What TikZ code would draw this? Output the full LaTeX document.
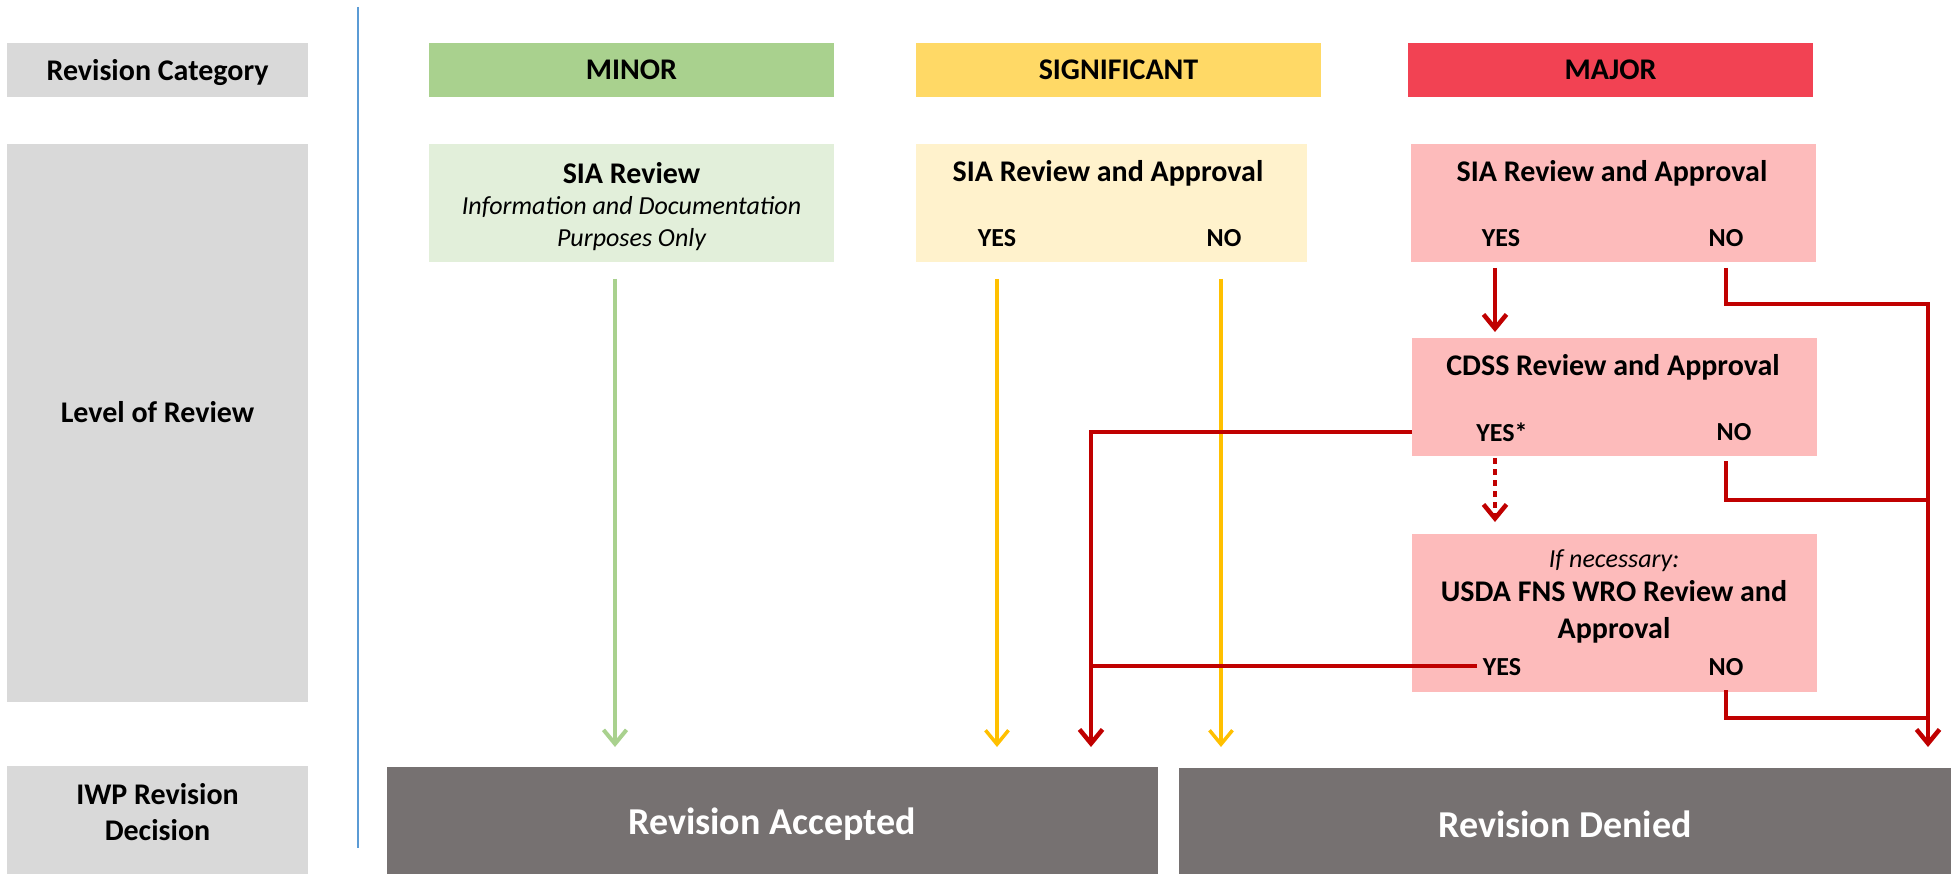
\documentclass[tikz,border=0pt]{standalone}
\usepackage{fontspec}
\setmainfont{Carlito}
\usetikzlibrary{arrows.meta}
\definecolor{lblgray}{HTML}{D9D9D9}
\definecolor{mgreen}{HTML}{A9D18E}
\definecolor{mgreenl}{HTML}{E2EFDA}
\definecolor{sgold}{HTML}{FFD966}
\definecolor{sgoldl}{HTML}{FFF2CC}
\definecolor{jred}{HTML}{F24253}
\definecolor{jredl}{HTML}{FDBBBB}
\definecolor{dred}{HTML}{C00000}
\definecolor{ygold}{HTML}{FFC000}
\definecolor{decgray}{HTML}{767171}
\definecolor{sepblue}{HTML}{5B9BD5}
\begin{document}
\begin{tikzpicture}[x=1pt,y=-1pt,
  boxs/.style={rectangle, inner sep=0pt, outer sep=0pt, draw=none},
  lbl/.style={font=\bfseries\fontsize{30}{36}\selectfont, align=center, inner sep=0pt},
  ttl/.style={font=\bfseries\fontsize{30}{36}\selectfont, align=center, inner sep=0pt},
  itl/.style={font=\itshape\fontsize{26}{32}\selectfont, align=center, inner sep=0pt},
  yn/.style={font=\bfseries\fontsize{26}{30}\selectfont, inner sep=0pt},
  dec/.style={font=\bfseries\fontsize{38}{44}\selectfont, text=white, inner sep=0pt},
  tip/.style={-{Straight Barb[length=14pt,width=23pt]}},
  redln/.style={draw=dred, line width=4.5pt},
  yelln/.style={draw=ygold, line width=3.5pt},
  grnln/.style={draw=mgreen, line width=4pt}]
\useasboundingbox (0,0) rectangle (1955,874);
\fill[white] (0,0) rectangle (1955,874);

% separator
\coordinate (sepA) at (358,7);
\coordinate (sepB) at (358,848);
\draw[sepblue, line width=1.4pt] (sepA) -- (sepB);

% left labels
\node[boxs, fill=lblgray, minimum width=301pt, minimum height=54pt] (catL) at (157.5,70) {};
\node[boxs, fill=lblgray, minimum width=301pt, minimum height=558pt] (levL) at (157.5,423) {};
\node[boxs, fill=lblgray, minimum width=301pt, minimum height=108pt] (decL) at (157.5,820) {};
\node[lbl] (catT) at (157.5,73) {Revision Category};
\node[lbl] (levT) at (157.5,412) {Level of Review};
\node[lbl] (decT) at (157.5,812) {IWP Revision\\Decision};

% headers
\node[boxs, fill=mgreen, minimum width=405pt, minimum height=54pt] (minorH) at (631.5,70) {};
\node[boxs, fill=sgold, minimum width=405pt, minimum height=54pt] (sigH) at (1118.5,70) {};
\node[boxs, fill=jred, minimum width=405pt, minimum height=54pt] (majH) at (1610.5,70) {};
\node[ttl] (minorT) at (631.5,70) {MINOR};
\node[ttl] (sigT) at (1118.5,70) {SIGNIFICANT};
\node[ttl] (majT) at (1610.5,70) {MAJOR};

% review boxes
\node[boxs, fill=mgreenl, minimum width=405pt, minimum height=118pt] (minorS) at (631.5,203) {};
\node[boxs, fill=sgoldl, minimum width=391pt, minimum height=118pt] (sigS) at (1111.5,203) {};
\node[boxs, fill=jredl, minimum width=405pt, minimum height=118pt] (majS) at (1613.5,203) {};
\node[boxs, fill=jredl, minimum width=405pt, minimum height=118pt] (cdss) at (1614.5,397) {};
\node[boxs, fill=jredl, minimum width=405pt, minimum height=158pt] (usda) at (1614.5,613) {};

\node[ttl] (minorST) at (631.5,173) {SIA Review};
\node[itl] (minorSI) at (631.5,224) {Information and Documentation\\Purposes Only};

\node[ttl] (sigST) at (1108,173) {SIA Review and Approval};
\node[yn] (sigY) at (997,238) {YES};
\node[yn] (sigN) at (1224,238) {NO};

\node[ttl] (majST) at (1612,173) {SIA Review and Approval};
\node[yn] (majY) at (1501,238) {YES};
\node[yn] (majN) at (1726,238) {NO};

\node[ttl] (cdssT) at (1613,367) {CDSS Review and Approval};
\node[yn] (cdssY) at (1502,432) {YES*};
\node[yn] (cdssN) at (1734,432) {NO};

\node[itl] (usdaI) at (1614,561) {If necessary:};
\node[ttl, font=\bfseries\fontsize{30}{37}\selectfont] (usdaT) at (1614,612) {USDA FNS WRO Review and\\Approval};
\node[yn] (usdaY) at (1502,667) {YES};
\node[yn] (usdaN) at (1726,667) {NO};

% decisions
\node[boxs, fill=decgray, minimum width=771pt, minimum height=107pt] (acc) at (772.5,820.5) {};
\node[boxs, fill=decgray, minimum width=772pt, minimum height=106pt] (den) at (1565,821) {};
\node[dec] (accT) at (772,824) {Revision Accepted};
\node[dec] (denT) at (1565,824) {Revision Denied};

% connector points
\coordinate (gA) at (615,279);  \coordinate (gB) at (615,747);
\coordinate (yA) at (997,279);  \coordinate (yB) at (997,747);
\coordinate (nA) at (1221,279); \coordinate (nB) at (1221,747);
\coordinate (r1A) at (1495,268); \coordinate (r1B) at (1495,332);
\coordinate (r2A) at (1495,458); \coordinate (r2B) at (1495,522);
\coordinate (cyA) at (1412,432); \coordinate (accIn) at (1091,432); \coordinate (accTip) at (1091,747);
\coordinate (uyA) at (1477,666); \coordinate (uyB) at (1091,666);
\coordinate (n1A) at (1726,268); \coordinate (n1B) at (1726,304); \coordinate (denTop) at (1928,304); \coordinate (denTip) at (1928,747);
\coordinate (n2A) at (1726,461); \coordinate (n2B) at (1726,500); \coordinate (n2C) at (1928,500);
\coordinate (n3A) at (1726,690); \coordinate (n3B) at (1726,718); \coordinate (n3C) at (1928,718);

% connectors
\draw[grnln, tip] (gA) -- (gB);
\draw[yelln, tip] (yA) -- (yB);
\draw[yelln, tip] (nA) -- (nB);
\draw[redln, tip] (r1A) -- (r1B);
\draw[redln, tip, dash pattern=on 6pt off 5pt] (r2A) -- (r2B);
\draw[redln, tip] (cyA) -- (accIn) -- (accTip);
\draw[redln] (uyA) -- (uyB);
\draw[redln, tip] (n1A) -- (n1B) -- (denTop) -- (denTip);
\draw[redln] (n2A) -- (n2B) -- (n2C);
\draw[redln] (n3A) -- (n3B) -- (n3C);
\end{tikzpicture}
\end{document}
